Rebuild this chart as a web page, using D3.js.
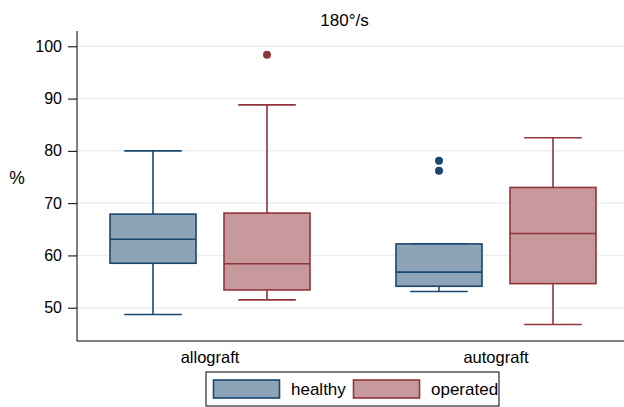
<!DOCTYPE html>
<html>
<head>
<meta charset="utf-8">
<script src="https://cdn.jsdelivr.net/npm/d3@7"></script>
<style>
  body { margin: 0; background: #fff; }
  svg { display: block; font-family: "Liberation Sans", Arial, sans-serif; }
</style>
</head>
<body>
<svg width="624" height="407"></svg>
<script>
// data
const categories = ['allograft', 'autograft'];
const groups = ['healthy', 'operated'];
const yTicks = [50, 60, 70, 80, 90, 100];

// [lower whisker, q1, median, q3, upper whisker] per category
const healthyBoxes = [
  [48.7, 58.5, 63.1, 67.9, 80.0],
  [53.1, 54.1, 56.8, 62.2, 62.2]
];
const operatedBoxes = [
  [51.5, 53.4, 58.4, 68.1, 88.8],
  [46.8, 54.6, 64.2, 73.0, 82.5]
];
const healthyOutliers = [[], [78.1, 76.2]];
const operatedOutliers = [[98.4], []];

const fills = { healthy: '#8ca3b8', operated: '#c8999c' };
const strokes = { healthy: '#1a476f', operated: '#90353b' };

const svg = d3.select('svg');
const margin = { top: 31, right: 0, bottom: 66, left: 77 };
const width = 624 - margin.left - margin.right;
const height = 407 - margin.top - margin.bottom;

const g = svg.append('g')
  .attr('transform', 'translate(' + margin.left + ',' + margin.top + ')');

const y = d3.scaleLinear().domain([43.63, 102.93]).range([height, 0]);
const x0 = d3.scalePoint().domain(categories).range([5, width]).padding(0.4476);
const x1 = d3.scaleBand().domain(groups).range([-114, 114]).paddingInner(0.2456).paddingOuter(0.1228);

// grid lines
g.selectAll('.grid')
  .data(yTicks)
  .enter()
  .append('line')
  .attr('x1', 0).attr('x2', width)
  .attr('y1', d => y(d)).attr('y2', d => y(d))
  .attr('stroke', '#eaf0f2')
  .attr('stroke-width', 1.5);

// axes
const yAxis = g.append('g')
  .call(d3.axisLeft(y).tickValues(yTicks).tickSize(9).tickPadding(6));
yAxis.select('.domain').remove();
yAxis.selectAll('.tick line').attr('stroke', '#000');
yAxis.selectAll('text').attr('font-size', 16).attr('fill', '#000');

g.append('line')
  .attr('x1', 0).attr('x2', 0).attr('y1', 0).attr('y2', height)
  .attr('stroke', '#000').attr('stroke-width', 1);
g.append('line')
  .attr('x1', 0).attr('x2', width).attr('y1', height).attr('y2', height)
  .attr('stroke', '#000').attr('stroke-width', 1);

g.selectAll('.cat')
  .data(categories)
  .enter()
  .append('text')
  .attr('x', d => x0(d))
  .attr('y', height + 22)
  .attr('text-anchor', 'middle')
  .attr('font-size', 16.5)
  .text(d => d);

// boxes
const series = [
  { key: 'healthy', boxes: healthyBoxes, outliers: healthyOutliers },
  { key: 'operated', boxes: operatedBoxes, outliers: operatedOutliers }
];
const bw = x1.bandwidth();
const capW = bw * 0.67;

series.forEach(s => {
  categories.forEach((c, i) => {
    const b = s.boxes[i];
    const cx = x0(c) + x1(s.key) + bw / 2;
    const bg = g.append('g')
      .attr('stroke', strokes[s.key])
      .attr('stroke-width', 1.6);

    // whiskers
    bg.append('line')
      .attr('x1', cx).attr('x2', cx)
      .attr('y1', y(b[3])).attr('y2', y(b[4]));
    bg.append('line')
      .attr('x1', cx).attr('x2', cx)
      .attr('y1', y(b[1])).attr('y2', y(b[0]));
    [b[0], b[4]].forEach(v => {
      bg.append('line')
        .attr('x1', cx - capW / 2).attr('x2', cx + capW / 2)
        .attr('y1', y(v)).attr('y2', y(v));
    });

    bg.append('rect')
      .attr('x', cx - bw / 2)
      .attr('y', y(b[3]))
      .attr('width', bw)
      .attr('height', y(b[1]) - y(b[3]))
      .attr('fill', fills[s.key]);
    bg.append('line')
      .attr('x1', cx - bw / 2).attr('x2', cx + bw / 2)
      .attr('y1', y(b[2])).attr('y2', y(b[2]));

    bg.selectAll('circle')
      .data(s.outliers[i])
      .enter()
      .append('circle')
      .attr('cx', cx)
      .attr('cy', d => y(d))
      .attr('r', 4)
      .attr('fill', strokes[s.key])
      .attr('stroke', 'none');
  });
});

// title and y label
svg.append('text')
  .attr('x', margin.left + width / 2 - 6)
  .attr('y', 26)
  .attr('text-anchor', 'middle')
  .attr('font-size', 17)
  .text('180°/s');

svg.append('text')
  .attr('x', 17)
  .attr('y', 184)
  .attr('text-anchor', 'middle')
  .attr('font-size', 17.5)
  .text('%');

// legend
const legend = svg.append('g').attr('transform', 'translate(206,372)');
legend.append('rect')
  .attr('x', 0).attr('y', 0)
  .attr('width', 293).attr('height', 34)
  .attr('fill', '#fff')
  .attr('stroke', '#000')
  .attr('stroke-width', 1);

const legendX = { healthy: 7.5, operated: 147.5 };
groups.forEach(k => {
  const lg = legend.append('g').attr('transform', 'translate(' + legendX[k] + ',8)');
  lg.append('rect')
    .attr('width', 66).attr('height', 18)
    .attr('fill', fills[k])
    .attr('stroke', strokes[k])
    .attr('stroke-width', 1.6);
  lg.append('text')
    .attr('x', 77.5)
    .attr('y', 15)
    .attr('font-size', 17)
    .text(k);
});
</script>
</body>
</html>
